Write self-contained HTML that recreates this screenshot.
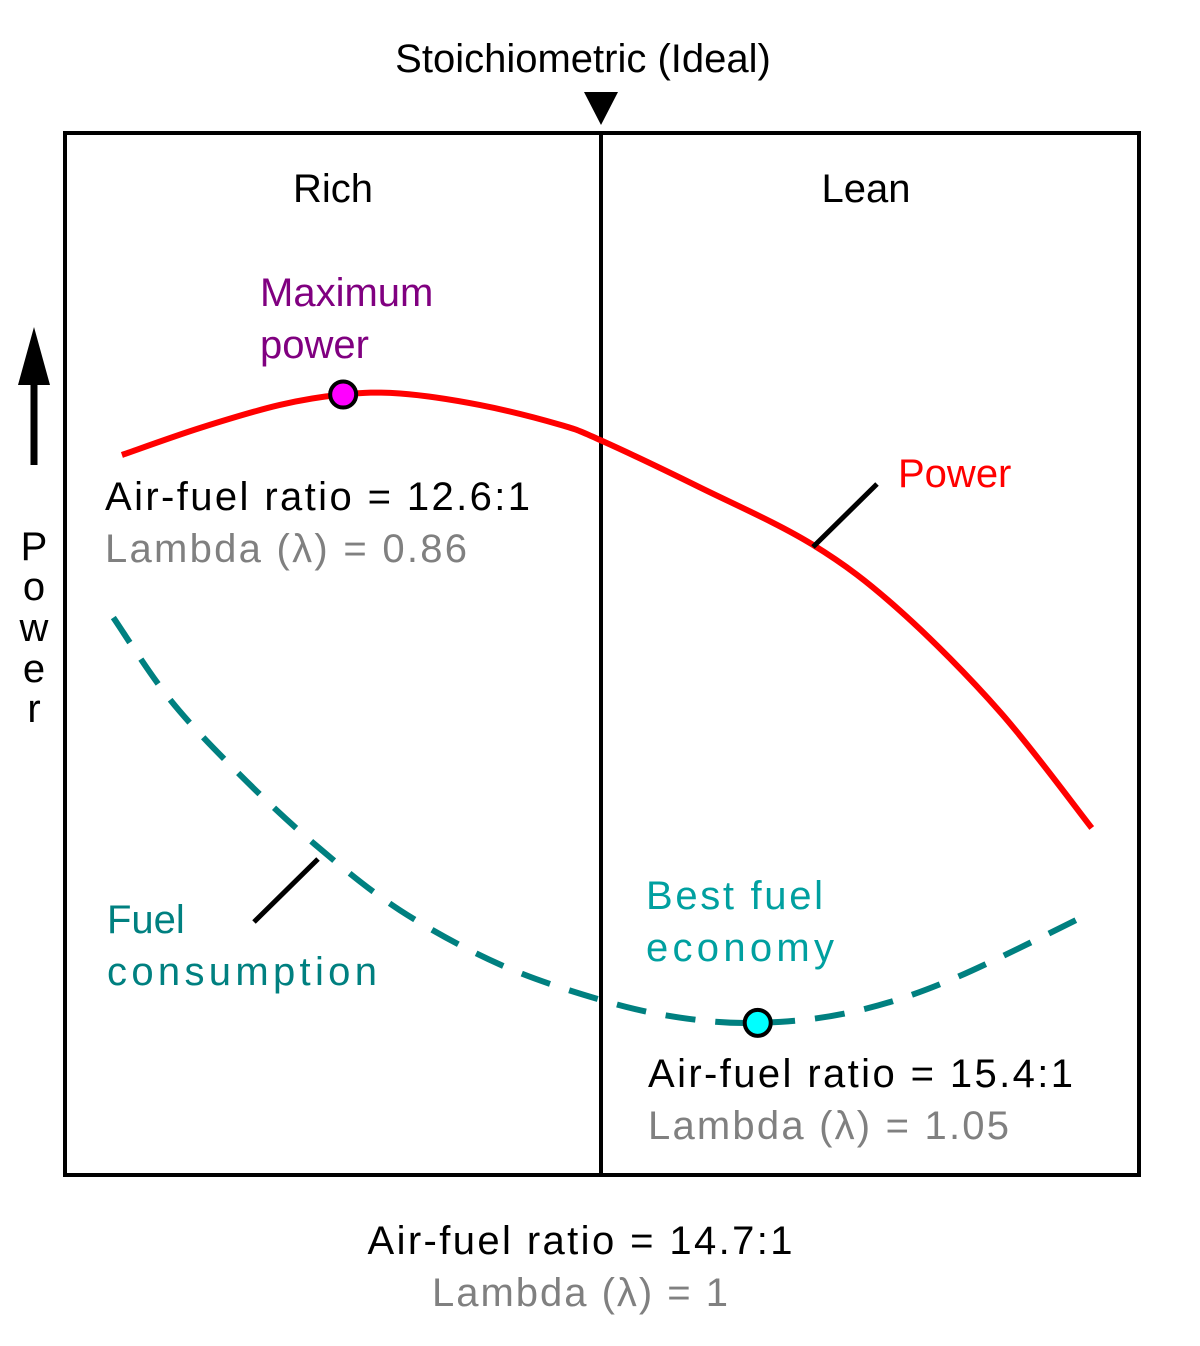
<!DOCTYPE html>
<html><head><meta charset="utf-8"><style>
html,body{margin:0;padding:0;background:#fff;}
svg{display:block;font-family:"Liberation Sans","DejaVu Sans",sans-serif;}
</style></head><body>
<svg id="chart" width="1200" height="1346" viewBox="0 0 1200 1346">
<rect x="0" y="0" width="1200" height="1346" fill="#fff"/>
<text x="583" y="72" font-size="40" text-anchor="middle" fill="#000">Stoichiometric (Ideal)</text>
<polygon points="584,92 618,92 601,125" fill="#000"/>
<rect x="65" y="133" width="1074" height="1042" fill="none" stroke="#000" stroke-width="4"/>
<line x1="601" y1="133" x2="601" y2="1175" stroke="#000" stroke-width="4"/>
<text x="333" y="202" font-size="40" text-anchor="middle">Rich</text>
<text x="866" y="202" font-size="40" text-anchor="middle">Lean</text>
<g id="curves"></g>
<line x1="813" y1="547" x2="877" y2="484" stroke="#000" stroke-width="5"/>
<line x1="254" y1="922" x2="318" y2="859" stroke="#000" stroke-width="5"/>
<text x="260" y="306" font-size="40" fill="#800080">Maximum</text>
<text x="260" y="358" font-size="40" fill="#800080">power</text>
<text x="105" y="510" font-size="40" textLength="425">Air-fuel ratio = 12.6:1</text>
<text x="105" y="562" font-size="40" fill="#808080" textLength="362">Lambda (λ) = 0.86</text>
<text x="898" y="487" font-size="40" fill="#ff0000">Power</text>
<text x="107" y="933" font-size="40" fill="#008080">Fuel</text>
<text x="107" y="985" font-size="40" fill="#008080" textLength="270">consumption</text>
<text x="646" y="909" font-size="40" fill="#00a0a0" textLength="177">Best fuel</text>
<text x="646" y="961" font-size="40" fill="#00a0a0" textLength="188">economy</text>
<text x="648" y="1087" font-size="40" textLength="425">Air-fuel ratio = 15.4:1</text>
<text x="648" y="1139" font-size="40" fill="#808080" textLength="361">Lambda (λ) = 1.05</text>
<text x="580" y="1254" font-size="40" text-anchor="middle" textLength="425">Air-fuel ratio = 14.7:1</text>
<text x="580" y="1306" font-size="40" fill="#808080" text-anchor="middle" textLength="296">Lambda (λ) = 1</text>
<line x1="34" y1="465" x2="34" y2="375" stroke="#000" stroke-width="7"/>
<polygon points="34,327 18,385 50,385" fill="#000"/>
<g font-size="40" text-anchor="middle">
<text x="34" y="560">P</text><text x="34" y="600">o</text><text x="34" y="641">w</text><text x="34" y="682">e</text><text x="34" y="722">r</text>
</g>
</svg>
<script>
const powerX = [5.3,12.6,20.0,25.9,31.2,38.6,46.1,49.9,59.1,69.6,77.7,87.1,95.6];
const powerY = [69.1,71.7,73.9,74.9,75.0,73.9,72.0,70.5,66.0,60.5,54.2,44.4,33.3];
const fuelX = [4.5,9.8,16.3,23.3,31.2,40.5,49.9,57.3,64.5,73.1,82.4,95.6];
const fuelY = [53.5,45.6,38.4,31.7,25.4,20.2,16.8,15.1,14.6,15.6,18.7,25.2];
const maxPowerPoint = [25.9,74.9];
const bestEconomyPoint = [64.5,14.6];
const sx = v => 65 + v/100*1074;
const sy = v => 1175 - v/100*1042;
const NS = "http://www.w3.org/2000/svg";
const g = document.getElementById('curves');
function smooth(xs, ys){
  const p = xs.map((x,i)=>[sx(x), sy(ys[i])]);
  let d = `M${p[0][0]},${p[0][1]}`;
  for(let i=0;i<p.length-1;i++){
    const p0=p[Math.max(i-1,0)], p1=p[i], p2=p[i+1], p3=p[Math.min(i+2,p.length-1)];
    const c1=[p1[0]+(p2[0]-p0[0])/6, p1[1]+(p2[1]-p0[1])/6];
    const c2=[p2[0]-(p3[0]-p1[0])/6, p2[1]-(p3[1]-p1[1])/6];
    d += ` C${c1[0]},${c1[1]} ${c2[0]},${c2[1]} ${p2[0]},${p2[1]}`;
  }
  return d;
}
const pw = document.createElementNS(NS,'path');
pw.setAttribute('d', smooth(powerX, powerY));
pw.setAttribute('fill','none'); pw.setAttribute('stroke','#ff0000'); pw.setAttribute('stroke-width','6');


g.appendChild(pw);
const fu = document.createElementNS(NS,'path');
fu.setAttribute('d', smooth(fuelX, fuelY));
fu.setAttribute('fill','none'); fu.setAttribute('stroke','#008080'); fu.setAttribute('stroke-width','6');
fu.setAttribute('stroke-dasharray','30 20');


g.appendChild(fu);
const c1 = document.createElementNS(NS,'circle');
c1.setAttribute('cx', sx(maxPowerPoint[0])); c1.setAttribute('cy', sy(maxPowerPoint[1])); c1.setAttribute('r','13');
c1.setAttribute('fill','#ff00ff'); c1.setAttribute('stroke','#000'); c1.setAttribute('stroke-width','4');


g.appendChild(c1);
const c2 = document.createElementNS(NS,'circle');
c2.setAttribute('cx', sx(bestEconomyPoint[0])); c2.setAttribute('cy', sy(bestEconomyPoint[1])); c2.setAttribute('r','13');
c2.setAttribute('fill','#00ffff'); c2.setAttribute('stroke','#000'); c2.setAttribute('stroke-width','4');


g.appendChild(c2);
</script>
</body></html>
